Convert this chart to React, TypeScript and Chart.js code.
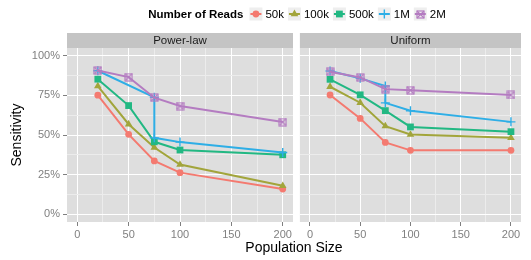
import React, { useEffect, useRef } from 'react';
import { Chart, registerables } from 'chart.js';
import { drawPoint } from 'chart.js/helpers';

Chart.register(...registerables);

const FONT = '"Liberation Sans", Arial, Helvetica, sans-serif';
Chart.defaults.font.family = FONT;

// ---------- data ----------
const populationSizes = [20, 50, 75, 100, 200];
const seriesNames = ['50k', '100k', '500k', '1M', '2M'];
const seriesColors = ['#F47A70', '#A2A53B', '#22B883', '#2EAEE6', '#B47CC1'];
const panelNames = ['Power-law', 'Uniform'];

// Power-law panel (sensitivity, %)
const powerLaw50k = [75.2, 50.4, 33.6, 26.2, 15.8];
const powerLaw100k = [80.9, 56.8, 42.1, 31.3, 17.9];
const powerLaw500k = [85.3, 68.6, 45.7, 40.5, 37.5];
const powerLaw1MSizes = [20, 75, 75, 100, 200];
const powerLaw1M = [90.6, 73.8, 48.2, 45.5, 38.9];
const powerLaw2M = [90.8, 86.6, 73.6, 68.3, 58.2];

// Uniform panel (sensitivity, %)
const uniform50k = [75.3, 60.5, 45.3, 40.3, 40.3];
const uniform100k = [80.5, 70.4, 55.6, 50.3, 48.2];
const uniform500k = [85.2, 75.4, 65.4, 55.1, 52.1];
const uniform1MSizes = [20, 50, 75, 75, 100, 200];
const uniform1M = [90.5, 85.8, 81.0, 70.3, 65.3, 58.3];
const uniform2M = [90.0, 86.4, 79.0, 78.3, 75.3];

const xTickValues = [0, 25, 50, 75, 100, 125, 150, 175, 200];
const yTickValues = [0, 12.5, 25, 37.5, 50, 62.5, 75, 87.5, 100];

const toPoints = (xs: number[], ys: number[]) => xs.map((x, i) => ({ x, y: ys[i] }));

function makeBoxX(color: string) {
  const c = document.createElement('canvas');
  c.width = 9;
  c.height = 9;
  const g = c.getContext('2d')!;
  g.strokeStyle = color;
  g.lineWidth = 1.2;
  g.strokeRect(1, 1, 7, 7);
  g.beginPath();
  g.moveTo(1, 1);
  g.lineTo(8, 8);
  g.moveTo(8, 1);
  g.lineTo(1, 8);
  g.stroke();
  return c;
}

function markerOpts(i: number, boxX: HTMLCanvasElement) {
  switch (i) {
    case 0: return { pointStyle: 'circle', radius: 3.4, borderWidth: 0 };
    case 1: return { pointStyle: 'triangle', radius: 4.4, borderWidth: 0 };
    case 2: return { pointStyle: 'rect', radius: 4.8, borderWidth: 0 };
    case 3: return { pointStyle: 'cross', radius: 4.5, borderWidth: 1.4 };
    default: return { pointStyle: boxX as any, radius: 4.5, borderWidth: 1 };
  }
}

function buildDatasets(series: { x: number[]; y: number[] }[], boxX: HTMLCanvasElement) {
  return series.map((s, i) => {
    const m = markerOpts(i, boxX);
    return {
      label: seriesNames[i],
      data: toPoints(s.x, s.y),
      borderColor: seriesColors[i],
      backgroundColor: seriesColors[i],
      borderWidth: 2,
      pointStyle: m.pointStyle,
      pointRadius: m.radius,
      pointBorderWidth: m.borderWidth,
      pointBackgroundColor: seriesColors[i],
      pointBorderColor: seriesColors[i],
      tension: 0,
      order: seriesNames.length - i,
    };
  });
}

const panelPlugin = {
  id: 'panelDecor',
  beforeDraw(chart: any, _args: any, opts: any) {
    const { ctx, chartArea: a } = chart;
    ctx.save();
    ctx.fillStyle = '#DEDEDE';
    ctx.fillRect(a.left, a.top, a.right - a.left, a.bottom - a.top);
    ctx.fillStyle = '#C4C4C4';
    ctx.fillRect(a.left, 33, a.right - a.left, a.top - 33);
    ctx.fillStyle = '#1A1A1A';
    ctx.font = `11.5px ${FONT}`;
    ctx.textAlign = 'center';
    ctx.textBaseline = 'middle';
    ctx.fillText(opts.label, (a.left + a.right) / 2, (33 + a.top) / 2 + 0.5);
    ctx.restore();
  },
};

function makeGlobalPlugin(boxX: HTMLCanvasElement) {
  return {
    id: 'globalDecor',
    afterDraw(chart: any) {
      const ctx: CanvasRenderingContext2D = chart.ctx;
      ctx.save();
      // axis titles
      ctx.fillStyle = '#000000';
      ctx.font = `14px ${FONT}`;
      ctx.textAlign = 'center';
      ctx.textBaseline = 'middle';
      ctx.fillText('Population Size', 294, 248);
      ctx.save();
      ctx.translate(17, 135);
      ctx.rotate(-Math.PI / 2);
      ctx.fillText('Sensitivity', 0, 0);
      ctx.restore();

      // legend
      const cy = 14;
      const title = 'Number of Reads';
      ctx.font = `bold 11.5px ${FONT}`;
      const titleW = ctx.measureText(title).width;
      ctx.font = `11.5px ${FONT}`;
      const keyW = 13;
      const labelWs = seriesNames.map((n) => ctx.measureText(n).width);
      const itemWs = labelWs.map((w) => keyW + 3 + w);
      const total = titleW + 6 + itemWs.reduce((p, c) => p + c, 0) + 4 * (seriesNames.length - 1);
      let x = 297 - total / 2;
      ctx.textAlign = 'left';
      ctx.font = `bold 11.5px ${FONT}`;
      ctx.fillStyle = '#000000';
      ctx.fillText(title, x, cy + 0.5);
      x += titleW + 6;
      ctx.font = `11.5px ${FONT}`;
      seriesNames.forEach((name, i) => {
        ctx.fillStyle = '#EEEEEE';
        ctx.fillRect(x, cy - keyW / 2, keyW, keyW);
        ctx.strokeStyle = seriesColors[i];
        ctx.lineWidth = 2;
        ctx.beginPath();
        ctx.moveTo(x + 1, cy);
        ctx.lineTo(x + keyW - 1, cy);
        ctx.stroke();
        const m = markerOpts(i, boxX);
        const cx = x + keyW / 2;
        if (i === 4) {
          ctx.drawImage(boxX, Math.round(cx - 4.5), Math.round(cy - 4.5));
        } else {
          ctx.fillStyle = seriesColors[i];
          ctx.strokeStyle = seriesColors[i];
          ctx.lineWidth = m.borderWidth;
          drawPoint(ctx, { pointStyle: m.pointStyle as any, radius: m.radius, borderWidth: m.borderWidth, rotation: 0 } as any, cx, cy);
        }
        ctx.fillStyle = '#000000';
        ctx.fillText(name, x + keyW + 3, cy + 0.5);
        x += itemWs[i] + 4;
      });
      ctx.restore();
    },
  };
}

function makeOptions(isLeft: boolean, label: string): any {
  return {
    responsive: false,
    animation: false,
    events: [],
    layout: {
      padding: isLeft
        ? { left: 0, top: 48, right: 238, bottom: 0 }
        : { left: 1, top: 48, right: 10, bottom: 0 },
    },
    plugins: {
      legend: { display: false },
      tooltip: { enabled: false },
      panelDecor: { label },
    },
    scales: {
      x: {
        type: 'linear',
        min: -10,
        max: 210,
        afterBuildTicks: (s: any) => {
          s.ticks = xTickValues.map((v) => ({ value: v }));
        },
        afterFit: (s: any) => {
          s.height = 38;
        },
        border: { display: false },
        grid: {
          color: (c: any) => (c.tick && c.tick.value % 50 === 0 ? '#FFFFFF' : '#ECECEC'),
          tickColor: (c: any) => (c.tick && c.tick.value % 50 === 0 ? '#7F7F7F' : 'rgba(0,0,0,0)'),
          lineWidth: 1,
          tickLength: 4,
        },
        ticks: {
          autoSkip: false,
          maxRotation: 0,
          padding: 2,
          color: '#808080',
          font: { family: FONT, size: 11 },
          callback: (v: any) => (Number(v) % 50 === 0 ? String(v) : ''),
        },
      },
      y: {
        type: 'linear',
        min: -5,
        max: 105,
        afterBuildTicks: (s: any) => {
          s.ticks = yTickValues.map((v) => ({ value: v }));
        },
        afterFit: (s: any) => {
          s.width = isLeft ? 67 : 0;
        },
        border: { display: false },
        grid: {
          color: (c: any) => (c.tick && c.tick.value % 25 === 0 ? '#FFFFFF' : '#ECECEC'),
          tickColor: (c: any) => (c.tick && c.tick.value % 25 === 0 ? '#7F7F7F' : 'rgba(0,0,0,0)'),
          lineWidth: 1,
          tickLength: 4,
          drawTicks: isLeft,
        },
        ticks: {
          display: isLeft,
          autoSkip: false,
          padding: 3,
          color: '#808080',
          font: { family: FONT, size: 11 },
          callback: (v: any) => (Number(v) % 25 === 0 ? `${v}%` : ''),
        },
      },
    },
  };
}

export default function App() {
  const leftRef = useRef<HTMLCanvasElement>(null);
  const rightRef = useRef<HTMLCanvasElement>(null);

  useEffect(() => {
    document.body.style.margin = '0';
    const boxX = makeBoxX(seriesColors[4]);
    const leftSeries = [
      { x: populationSizes, y: powerLaw50k },
      { x: populationSizes, y: powerLaw100k },
      { x: populationSizes, y: powerLaw500k },
      { x: powerLaw1MSizes, y: powerLaw1M },
      { x: populationSizes, y: powerLaw2M },
    ];
    const rightSeries = [
      { x: populationSizes, y: uniform50k },
      { x: populationSizes, y: uniform100k },
      { x: populationSizes, y: uniform500k },
      { x: uniform1MSizes, y: uniform1M },
      { x: populationSizes, y: uniform2M },
    ];
    const left = new Chart(leftRef.current!, {
      type: 'line',
      data: { datasets: buildDatasets(leftSeries, boxX) as any },
      options: makeOptions(true, panelNames[0]),
      plugins: [panelPlugin, makeGlobalPlugin(boxX)],
    });
    const right = new Chart(rightRef.current!, {
      type: 'line',
      data: { datasets: buildDatasets(rightSeries, boxX) as any },
      options: makeOptions(false, panelNames[1]),
      plugins: [panelPlugin],
    });
    return () => {
      left.destroy();
      right.destroy();
    };
  }, []);

  return (
    <div style={{ position: 'relative', width: 531, height: 260, overflow: 'hidden', background: '#FFFFFF' }}>
      <canvas ref={leftRef} width={531} height={260} style={{ position: 'absolute', left: 0, top: 0 }} />
      <canvas ref={rightRef} width={237} height={260} style={{ position: 'absolute', left: 294, top: 0 }} />
    </div>
  );
}
